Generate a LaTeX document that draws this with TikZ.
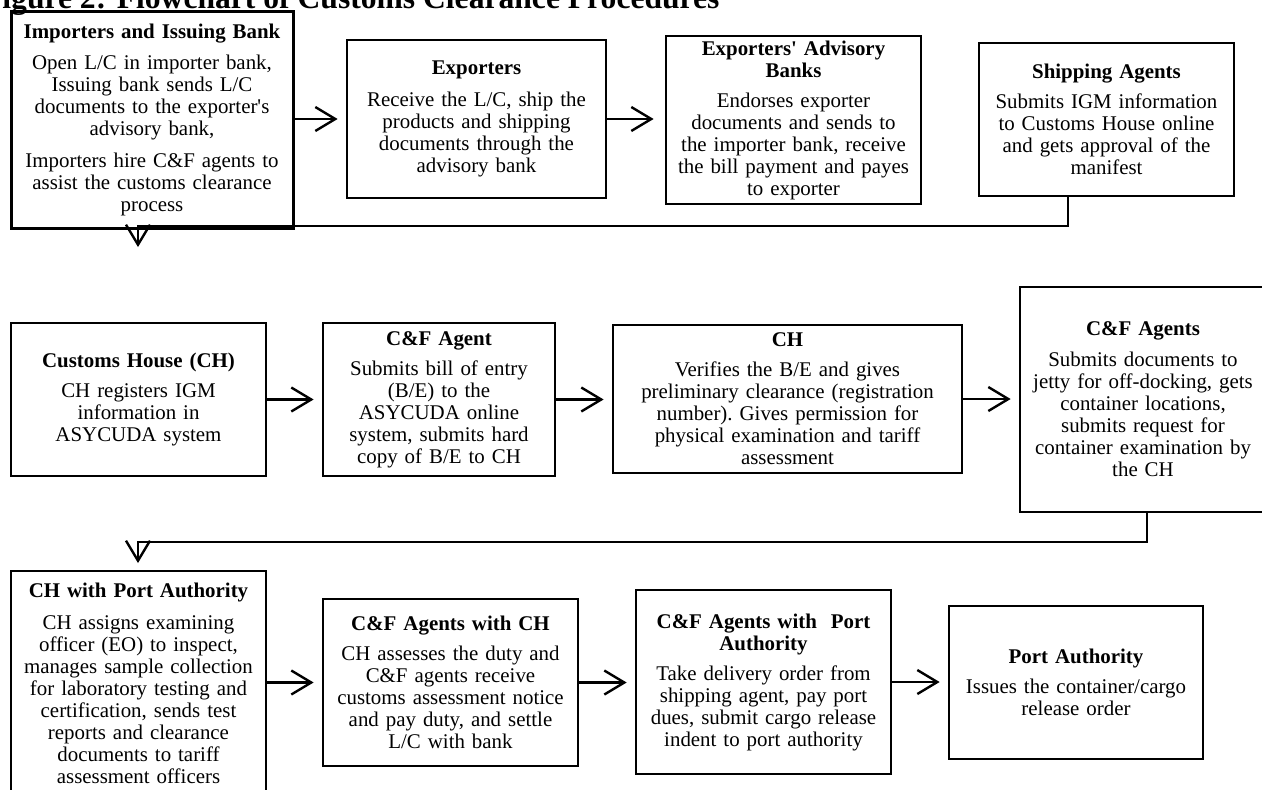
\documentclass[tikz,border=0pt]{standalone}
\usepackage{fontspec}
\setmainfont{Liberation Serif}[Ligatures=TeXOff]
\usetikzlibrary{arrows.meta}
\newcommand{\bodyfont}{\fontsize{20.9}{22}\selectfont\frenchspacing}
\newcommand{\titlefont}{\fontsize{31.6}{36}\selectfont\bfseries}
\newcommand{\hd}[1]{\textbf{#1}}
\tikzset{
  box/.style={draw, line width=2.7pt, inner sep=0pt, align=center, font=\bodyfont},
  conn/.style={line width=2.4pt},
  tip/.style={-{Straight Barb[length=20pt,width=24pt]}},
  gapped/.style={shorten >=8pt}
}
\begin{document}
\begin{tikzpicture}[x=1pt,y=-1pt]
\useasboundingbox (0,0) rectangle (1262,790);
\clip (0,0) rectangle (1262,790);

\node[anchor=base east, font=\titlefont] (title) at (723,8) {Figure 2: Flowchart of Customs Clearance Procedures};

% Row 1
\node[box, line width=3.0pt, minimum width=282, minimum height=217, text width=270] (b1) at (152,119.5)
 {\hd{Importers and Issuing Bank}\\[9.5pt]
  Open L/C in importer bank,\\ Issuing bank sends L/C\\ documents to the exporter's\\ advisory bank,\\[9.5pt]
  Importers hire C\&F agents to\\ assist the customs clearance\\ process};
\node[box, minimum width=259, minimum height=158, text width=245] (b2) at (476.5,119)
 {\hd{Exporters}\\[9.5pt]
  Receive the L/C, ship the\\ products and shipping\\ documents through the\\ advisory bank};
\node[box, minimum width=255, minimum height=168, text width=245] (b3) at (793.5,120)
 {\hd{Exporters' Advisory}\\ \hd{Banks}\\[8pt]
  Endorses exporter\\ documents and sends to\\ the importer bank, receive\\ the bill payment and payes\\ to exporter};
\node[box, minimum width=255, minimum height=153, text width=245] (b4) at (1106.5,119.5)
 {\hd{Shipping Agents}\\[7.5pt]
  Submits IGM information\\ to Customs House online\\ and gets approval of the\\ manifest};

% Row 2
\node[box, minimum width=255, minimum height=153, text width=245] (b5) at (138.5,399.5)
 {\hd{Customs House (CH)}\\[8pt]
  CH registers IGM\\ information in\\ ASYCUDA system};
\node[box, minimum width=232, minimum height=153, text width=225] (b6) at (439,399.5)
 {\hd{C\&F Agent}\\[8pt]
  Submits bill of entry\\ (B/E) to the\\ ASYCUDA online\\ system, submits hard\\ copy of B/E to CH};
\node[box, minimum width=349, minimum height=148, text width=340] (b7) at (787.5,399)
 {\hd{CH}\\[8pt]
  Verifies the B/E and gives\\ preliminary clearance (registration\\ number). Gives permission for\\ physical examination and tariff\\ assessment};
\node[box, minimum width=246, minimum height=225, text width=240] (b8) at (1143,399.5)
 {\hd{C\&F Agents}\\[9pt]
  Submits documents to\\ jetty for off-docking, gets\\ container locations,\\ submits request for\\ container examination by\\ the CH};

% Row 3
\node[box, minimum width=255, minimum height=224, text width=250] (b9) at (138.5,683)
 {\hd{CH with Port Authority}\\[10pt]
  CH assigns examining\\ officer (EO) to inspect,\\ manages sample collection\\ for laboratory testing and\\ certification, sends test\\ reports and clearance\\ documents to tariff\\ assessment officers};
\node[box, minimum width=255, minimum height=167, text width=245] (b10) at (450.5,682.5)
 {\hd{C\&F Agents with CH}\\[8pt]
  CH assesses the duty and\\ C\&F agents receive\\ customs assessment notice\\ and pay duty, and settle\\ L/C with bank};
\node[box, minimum width=255, minimum height=184, text width=245] (b11) at (763.5,682)
 {\hd{C\&F Agents with\ \ Port}\\ \hd{Authority}\\[8pt]
  Take delivery order from\\ shipping agent, pay port\\ dues, submit cargo release\\ indent to port authority};
\node[box, minimum width=254, minimum height=153, text width=245] (b12) at (1076,682.5)
 {\hd{Port Authority}\\[8pt]
  Issues the container/cargo\\ release order};

% horizontal arrows
\draw[conn,tip,gapped] (b1.east |- b2.west) -- (b2.west);
\draw[conn,tip,shorten >=11pt] (b2.east) -- (b2.east -| b3.west);
\draw[conn,tip,gapped] (b5.east) -- (b6.west);
\draw[conn,tip,gapped] (b6.east) -- (b6.east -| b7.west);
\draw[conn,tip,gapped] (b7.east) -- (b7.east -| b8.west);
\draw[conn,tip,gapped] (b9.east |- b10.west) -- (b10.west);
\draw[conn,tip,gapped] (b10.east) -- (b10.east -| b11.west);
\draw[conn,tip,gapped] (b11.east) -- (b11.east -| b12.west);

% return connectors
\coordinate (k1a) at (1068,226);
\coordinate (k1b) at (138,226);
\coordinate (e1) at (138,247);
\draw[conn,tip] (b4.south -| k1a) -- (k1a) -- (k1b) -- (e1);

\coordinate (k2a) at (1147,542);
\coordinate (k2b) at (138,542);
\coordinate (e2) at (138,563);
\draw[conn,tip] (b8.south -| k2a) -- (k2a) -- (k2b) -- (e2);
\end{tikzpicture}
\end{document}
